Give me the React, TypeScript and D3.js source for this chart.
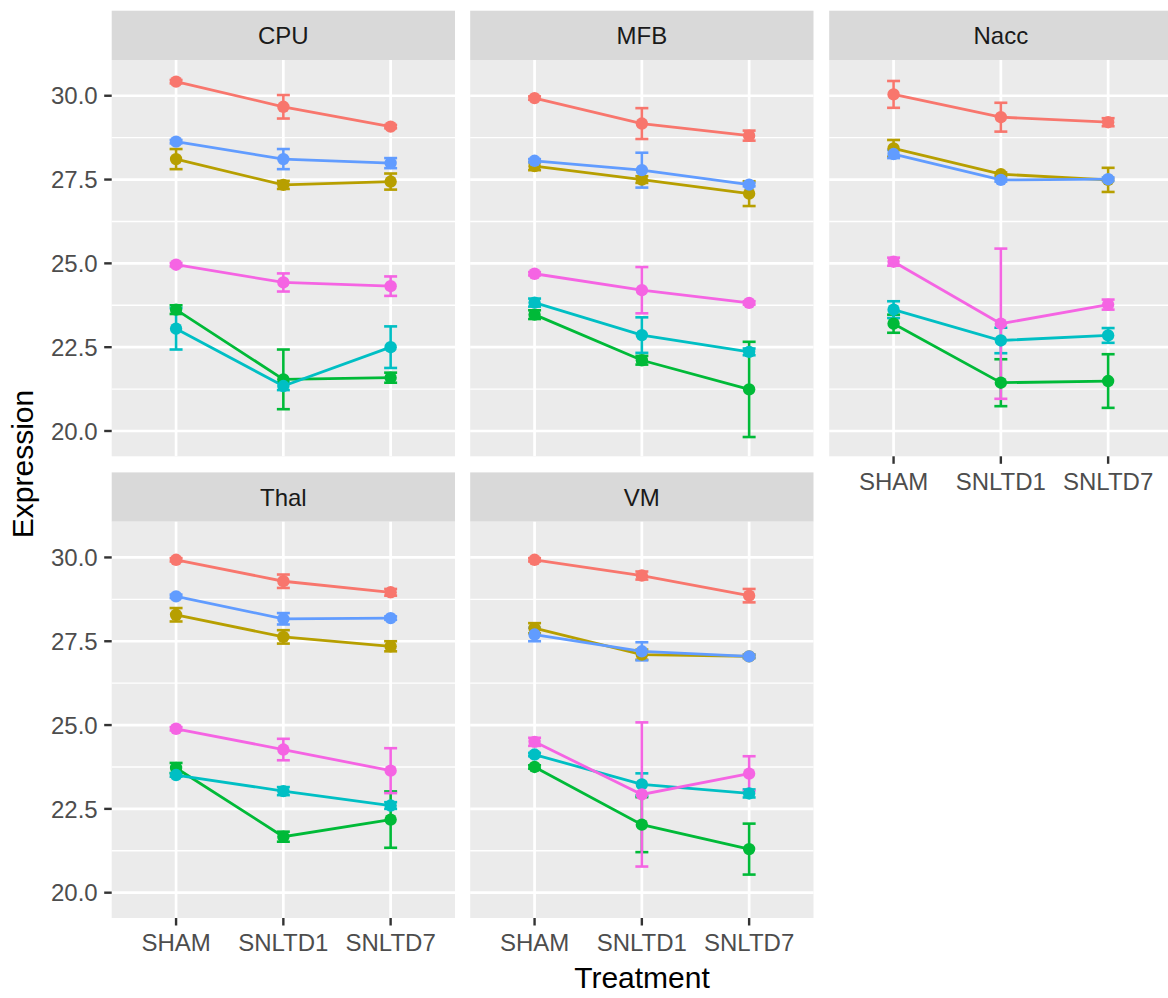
import React from "react";
import * as d3 from "d3";

// ---------- data ----------
const treatments = ["SHAM", "SNLTD1", "SNLTD7"];
const genes = ["Gene1", "Gene2", "Gene3", "Gene4", "Gene5", "Gene6"];
const geneColors = ["#F8766D", "#B79F00", "#00BA38", "#00BFC4", "#619CFF", "#F564E3"];
const regions = ["CPU", "MFB", "Nacc", "Thal", "VM"];
const yTicks = [20, 22.5, 25, 27.5, 30];
const yTickLabels = ["20.0", "22.5", "25.0", "27.5", "30.0"];
const yMinor = [21.25, 23.75, 26.25, 28.75];

// mean per gene (rows, in genes order) x treatment (cols)
const cpuMean = [
  [30.42, 29.67, 29.08],
  [28.11, 27.34, 27.44],
  [23.62, 21.54, 21.59],
  [23.05, 21.34, 22.5],
  [28.63, 28.11, 27.99],
  [24.96, 24.43, 24.32],
];
const cpuSE = [
  [0.05, 0.35, 0.05],
  [0.3, 0.12, 0.24],
  [0.13, 0.89, 0.15],
  [0.62, 0.12, 0.62],
  [0.05, 0.3, 0.15],
  [0.05, 0.27, 0.29],
];
const mfbMean = [
  [29.93, 29.17, 28.81],
  [27.9, 27.5, 27.08],
  [23.47, 22.11, 21.24],
  [23.83, 22.86, 22.36],
  [28.06, 27.78, 27.35],
  [24.69, 24.2, 23.82],
];
const mfbSE = [
  [0.05, 0.46, 0.15],
  [0.12, 0.1, 0.37],
  [0.13, 0.13, 1.42],
  [0.12, 0.53, 0.1],
  [0.05, 0.52, 0.05],
  [0.05, 0.69, 0.05],
];
const naccMean = [
  [30.04, 29.36, 29.21],
  [28.43, 27.66, 27.49],
  [23.2, 21.44, 21.49],
  [23.62, 22.7, 22.85],
  [28.26, 27.49, 27.51],
  [25.05, 23.2, 23.77],
];
const naccSE = [
  [0.4, 0.43, 0.12],
  [0.25, 0.05, 0.36],
  [0.27, 0.7, 0.8],
  [0.25, 0.38, 0.22],
  [0.12, 0.05, 0.05],
  [0.12, 2.24, 0.15],
];
const thalMean = [
  [29.93, 29.29, 28.96],
  [28.29, 27.63, 27.35],
  [23.72, 21.67, 22.18],
  [23.51, 23.03, 22.6],
  [28.84, 28.17, 28.19],
  [24.89, 24.27, 23.64],
];
const thalSE = [
  [0.05, 0.2, 0.1],
  [0.2, 0.2, 0.15],
  [0.15, 0.15, 0.84],
  [0.05, 0.12, 0.1],
  [0.05, 0.17, 0.05],
  [0.05, 0.32, 0.67],
];
const vmMean = [
  [29.93, 29.46, 28.86],
  [27.89, 27.1, 27.05],
  [23.75, 22.03, 21.3],
  [24.12, 23.23, 22.96],
  [27.7, 27.2, 27.05],
  [24.5, 22.93, 23.55],
];
const vmSE = [
  [0.05, 0.12, 0.2],
  [0.15, 0.15, 0.05],
  [0.05, 0.82, 0.76],
  [0.05, 0.33, 0.12],
  [0.2, 0.27, 0.05],
  [0.12, 2.15, 0.52],
];

const regionMeans = [cpuMean, mfbMean, naccMean, thalMean, vmMean];
const regionSEs = [cpuSE, mfbSE, naccSE, thalSE, vmSE];

// ---------- layout ----------
const W = 1168;
const H = 998;
const colX = [111.7, 470.2, 829.2];
const rowY = [60, 521.7];
const panelW = 343.3;
const panelH = 396.3;
const stripH = 49.3;
const panelPos = [
  { col: 0, row: 0, xAxis: false, yAxis: true },
  { col: 1, row: 0, xAxis: false, yAxis: false },
  { col: 2, row: 0, xAxis: true, yAxis: false },
  { col: 0, row: 1, xAxis: true, yAxis: true },
  { col: 1, row: 1, xAxis: true, yAxis: false },
];

const FONT = "'Liberation Sans', Arial, Helvetica, sans-serif";

const x = d3.scalePoint<string>().domain(treatments).range([0, panelW]).padding(0.6);
const y = d3.scaleLinear().domain([19.245, 31.066]).range([panelH, 0]);

const line = d3
  .line<number>()
  .x((_, i) => x(treatments[i]) as number)
  .y((d) => y(d));

function Panel({ idx }: { idx: number }) {
  const p = panelPos[idx];
  const tx = colX[p.col];
  const ty = rowY[p.row];
  const means = regionMeans[idx];
  const ses = regionSEs[idx];
  const capHalf = 6.5;
  return (
    <g transform={`translate(${tx},${ty})`}>
      {/* strip */}
      <rect x={0} y={-stripH} width={panelW} height={stripH} fill="#D9D9D9" />
      <text
        x={panelW / 2}
        y={-stripH / 2 + 8.6}
        textAnchor="middle"
        fontSize={24}
        fill="#1A1A1A"
        fontFamily={FONT}
      >
        {regions[idx]}
      </text>
      {/* panel bg */}
      <rect x={0} y={0} width={panelW} height={panelH} fill="#EBEBEB" />
      {yMinor.map((v) => (
        <line key={"mn" + v} x1={0} x2={panelW} y1={y(v)} y2={y(v)} stroke="#FFFFFF" strokeWidth={1.4} />
      ))}
      {yTicks.map((v) => (
        <line key={"mj" + v} x1={0} x2={panelW} y1={y(v)} y2={y(v)} stroke="#FFFFFF" strokeWidth={2.7} />
      ))}
      {treatments.map((t) => (
        <line key={"vx" + t} x1={x(t)} x2={x(t)} y1={0} y2={panelH} stroke="#FFFFFF" strokeWidth={2.7} />
      ))}
      {/* error bars */}
      {means.map((row, g) =>
        row.map((m, i) => {
          const cx = x(treatments[i]) as number;
          const se = ses[g][i];
          const y1 = y(m + se);
          const y2 = y(m - se);
          return (
            <g key={`eb${g}-${i}`} stroke={geneColors[g]} strokeWidth={2.6}>
              <line x1={cx} x2={cx} y1={y1} y2={y2} />
              <line x1={cx - capHalf} x2={cx + capHalf} y1={y1} y2={y1} />
              <line x1={cx - capHalf} x2={cx + capHalf} y1={y2} y2={y2} />
            </g>
          );
        })
      )}
      {/* lines */}
      {means.map((row, g) => (
        <path key={"ln" + g} d={line(row) || ""} fill="none" stroke={geneColors[g]} strokeWidth={2.8} />
      ))}
      {/* points */}
      {means.map((row, g) =>
        row.map((m, i) => (
          <circle key={`pt${g}-${i}`} cx={x(treatments[i])} cy={y(m)} r={6.2} fill={geneColors[g]} />
        ))
      )}
      {/* y axis */}
      {p.yAxis &&
        yTicks.map((v, i) => (
          <g key={"yt" + v}>
            <line x1={-7.5} x2={0} y1={y(v)} y2={y(v)} stroke="#333333" strokeWidth={2.4} />
            <text
              x={-14}
              y={y(v)}
              dy="0.36em"
              textAnchor="end"
              fontSize={24}
              fill="#4D4D4D"
              fontFamily={FONT}
            >
              {yTickLabels[i]}
            </text>
          </g>
        ))}
      {/* x axis */}
      {p.xAxis &&
        treatments.map((t) => (
          <g key={"xt" + t}>
            <line x1={x(t)} x2={x(t)} y1={panelH} y2={panelH + 7.5} stroke="#333333" strokeWidth={2.4} />
            <text
              x={x(t)}
              y={panelH + 33.3}
              textAnchor="middle"
              fontSize={24}
              fill="#4D4D4D"
              fontFamily={FONT}
            >
              {t}
            </text>
          </g>
        ))}
    </g>
  );
}

export default function App() {
  return (
    <svg
      width={W}
      height={H}
      viewBox={`0 0 ${W} ${H}`}
      style={{ position: "absolute", left: 0, top: 0, background: "#FFFFFF" }}
    >
      <rect x={0} y={0} width={W} height={H} fill="#FFFFFF" />
      {regions.map((r, i) => (
        <Panel key={r} idx={i} />
      ))}
      <text x={642} y={988} textAnchor="middle" fontSize={30} fill="#000000" fontFamily={FONT}>
        Treatment
      </text>
      <text
        transform={`translate(33,464) rotate(-90)`}
        textAnchor="middle"
        fontSize={30}
        fill="#000000"
        fontFamily={FONT}
      >
        Expression
      </text>
    </svg>
  );
}
